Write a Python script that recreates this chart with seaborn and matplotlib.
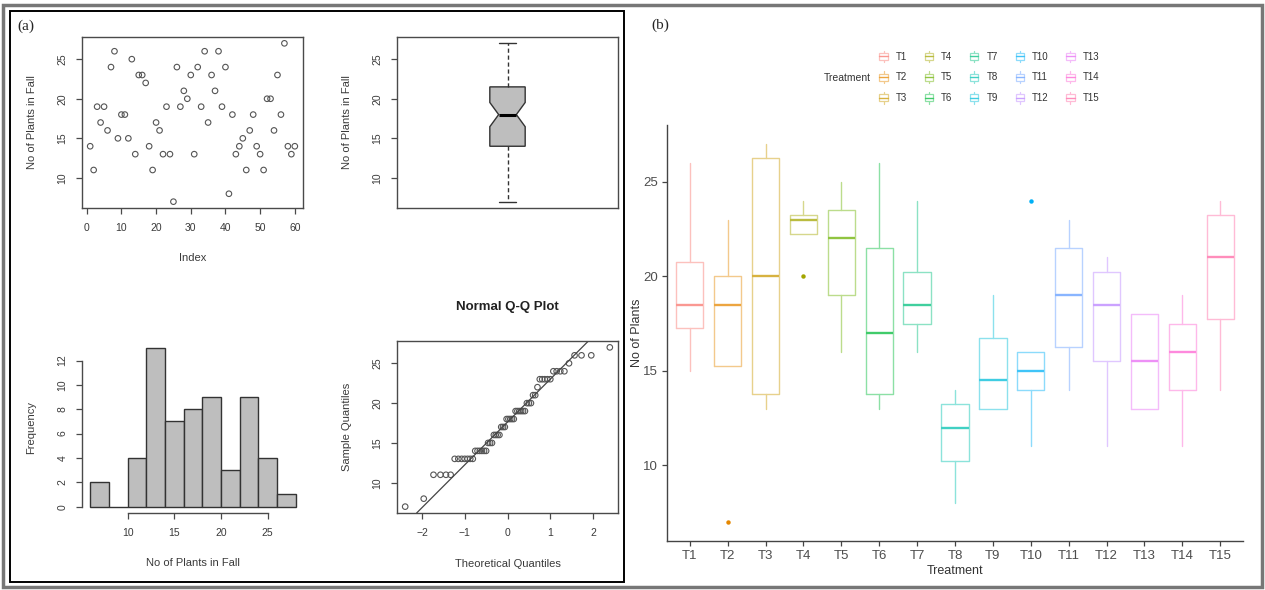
import math
from statistics import NormalDist

import numpy as np
import pandas as pd
import matplotlib
matplotlib.use("Agg")
import matplotlib.pyplot as plt
import seaborn as sns
from matplotlib.lines import Line2D
from matplotlib.patches import Rectangle
from matplotlib.legend_handler import HandlerBase

# ---------------- data ----------------
# (a) number of plants in fall, plot index 1..60
plants_fall = [14, 11, 19, 17, 19, 16, 24, 26, 15, 18, 18, 15, 25, 13, 23, 23, 22, 14, 11, 17,
               16, 13, 19, 13, 7, 24, 19, 21, 20, 23, 13, 24, 19, 26, 17, 23, 21, 26, 19, 24,
               8, 18, 13, 14, 15, 11, 16, 18, 14, 13, 11, 20, 20, 16, 23, 18, 27, 14, 13, 14]
hist_edges = [6, 8, 10, 12, 14, 16, 18, 20, 22, 24, 26, 28]

# (b) box statistics per treatment
treatments = ["T%d" % i for i in range(1, 16)]
t_q1 = [17.25, 15.25, 13.75, 22.25, 19, 13.75, 17.5, 10.25, 13, 14, 16.25, 15.5, 13, 14, 17.75]
t_med = [18.5, 18.5, 20, 23, 22, 17, 18.5, 12, 14.5, 15, 19, 18.5, 15.5, 16, 21]
t_q3 = [20.75, 20, 26.25, 23.25, 23.5, 21.5, 20.25, 13.25, 16.75, 16, 21.5, 20.25, 18, 17.5, 23.25]
t_lo = [15, 15.25, 13, 22.25, 16, 13, 16, 8, 13, 11, 14, 11, 13, 11, 14]
t_hi = [26, 23, 27, 24, 25, 26, 24, 14, 19, 16, 23, 21, 18, 19, 24]
t_out = [[], [7], [], [20], [], [], [], [], [], [24], [], [], [], [], []]
t_colors = ["#F8766D", "#E58700", "#C99800", "#A3A500", "#6BB100", "#00BA38", "#00BF7D",
            "#00C0AF", "#00BCD8", "#00B0F6", "#619CFF", "#B983FF", "#E76BF3", "#FD61D1", "#FF67A4"]

W, H = 1265, 590
FRAME = "#4a4a4a"
TEXT = "#3a3a3a"
GRAY = "#bebebe"
BOX_FADE = 0.55
MED_FADE = 0.25

sns.set_style("white")
plt.rcParams['font.family'] = ['Liberation Sans', 'DejaVu Sans']


def px_axes(fig, x0, y0, x1, y1):
    return fig.add_axes([x0 / W, 1 - y1 / H, (x1 - x0) / W, (y1 - y0) / H])


def r_pad(v, f=0.04):
    lo, hi = min(v), max(v)
    d = (hi - lo) * f
    return lo - d, hi + d


def r_style(ax, frame=True):
    for s in ax.spines.values():
        s.set_color(FRAME)
        s.set_linewidth(1.0)
        s.set_visible(frame)
    ax.tick_params(direction='out', length=4.5, width=0.9, color=FRAME,
                   labelsize=7.5, labelcolor=TEXT, pad=6, bottom=True, left=True)
    ax.tick_params(axis='y', labelrotation=90)
    for lab in ax.get_yticklabels():
        lab.set_va('center')


def r_labels(ax, xlabel, ylabel):
    ax.set_xlabel(xlabel, fontsize=8, color=TEXT, va='top')
    ax.set_ylabel(ylabel, fontsize=8, color=TEXT)
    ax.xaxis.set_label_coords(0.5, -0.265)
    ax.yaxis.set_label_coords(-0.205, 0.5)


def fivenum(v):
    x = np.sort(np.asarray(v, dtype=float))
    n = len(x)
    n4 = math.floor((n + 3) / 2) / 2
    d = [1, n4, (n + 1) / 2, n + 1 - n4, n]
    return [0.5 * (x[math.floor(i) - 1] + x[math.ceil(i) - 1]) for i in d]


def lighten(c, f):
    r, g, b = matplotlib.colors.to_rgb(c)
    return (r + (1 - r) * f, g + (1 - g) * f, b + (1 - b) * f)


class BoxKey:
    def __init__(self, color):
        self.color = color


class BoxKeyHandler(HandlerBase):
    # small ggplot-like boxplot glyph for the legend
    def create_artists(self, legend, orig_handle, xdescent, ydescent, width, height,
                       fontsize, trans):
        x0, y0 = -xdescent, -ydescent
        pale = lighten(orig_handle.color, BOX_FADE)
        xc = x0 + width / 2
        whisk = Line2D([xc, xc], [y0 - 0.3 * height, y0 + 1.3 * height], color=pale,
                       linewidth=0.9, transform=trans)
        box = Rectangle((x0 + 0.05 * width, y0), 0.9 * width, height, facecolor='white',
                        edgecolor=pale, linewidth=0.9, transform=trans)
        med = Line2D([x0 + 0.05 * width, x0 + 0.95 * width], [y0 + height / 2] * 2,
                     color=lighten(orig_handle.color, MED_FADE), linewidth=1.0, transform=trans)
        return [whisk, box, med]


fig = plt.figure(figsize=(W / 100, H / 100), dpi=100)

# ---------- (a) index plot ----------
idx = np.arange(1, len(plants_fall) + 1)
ax1 = px_axes(fig, 82, 37, 303, 208)
sns.scatterplot(x=idx, y=plants_fall, ax=ax1, marker='o', s=16, facecolor='none',
                edgecolor='#555555', linewidth=0.8)
ax1.set_xlim(r_pad(idx))
ax1.set_ylim(r_pad(plants_fall))
ax1.set_xticks(range(0, 61, 10))
ax1.set_yticks([10, 15, 20, 25])
r_style(ax1)
r_labels(ax1, "Index", "No of Plants in Fall")

# ---------- (a) notched box plot ----------
ax2 = px_axes(fig, 397, 37, 618, 208)
f5 = fivenum(plants_fall)
iqr = f5[3] - f5[1]
notch = 1.58 * iqr / math.sqrt(len(plants_fall))
box_stats = [dict(med=f5[2], q1=f5[1], q3=f5[3], whislo=f5[0], whishi=f5[4], fliers=[],
                  cilo=f5[2] - notch, cihi=f5[2] + notch)]
ax2.bxp(box_stats, positions=[1], widths=0.16, shownotches=True, patch_artist=True,
        boxprops=dict(facecolor=GRAY, edgecolor='#333333', linewidth=1.0),
        whiskerprops=dict(color='#333333', linestyle=(0, (3, 2)), linewidth=1.0),
        capprops=dict(color='#333333', linewidth=1.0),
        medianprops=dict(color='black', linewidth=2.2))
ax2.set_xlim(0.5, 1.5)
ax2.set_ylim(r_pad(plants_fall))
ax2.set_xticks([])
ax2.set_yticks([10, 15, 20, 25])
r_style(ax2)
ax2.tick_params(axis='x', bottom=False)
r_labels(ax2, "", "No of Plants in Fall")

# ---------- (a) histogram ----------
counts = pd.cut(pd.Series(plants_fall), hist_edges, right=True).value_counts().sort_index().values
ax3 = px_axes(fig, 82, 342, 304, 513)
sns.histplot(x=hist_edges[:-1], weights=counts, bins=hist_edges, ax=ax3, color=GRAY,
             edgecolor='#333333', linewidth=1.0, alpha=1)
ax3.set_xlim(r_pad(hist_edges))
ax3.set_ylim(r_pad([0, max(counts)]))
ax3.set_xticks([10, 15, 20, 25])
ax3.set_yticks(range(0, 13, 2))
r_style(ax3, frame=False)
ax3.spines['left'].set_visible(True)
ax3.spines['bottom'].set_visible(True)
ax3.spines['left'].set_bounds(0, 12)
ax3.spines['bottom'].set_bounds(10, 25)
r_labels(ax3, "No of Plants in Fall", "Frequency")

# ---------- (a) normal Q-Q plot ----------
n = len(plants_fall)
nd = NormalDist()
theo = [nd.inv_cdf((i - 0.5) / n) for i in range(1, n + 1)]
samp = np.sort(plants_fall)
ax4 = px_axes(fig, 397, 341, 618, 513)
sns.scatterplot(x=theo, y=samp, ax=ax4, marker='o', s=16, facecolor='none',
                edgecolor='#555555', linewidth=0.8)
yq = np.quantile(plants_fall, [0.25, 0.75])
xq = [nd.inv_cdf(0.25), nd.inv_cdf(0.75)]
ax4.axline((xq[0], yq[0]), (xq[1], yq[1]), color='#444444', linewidth=0.9)
ax4.set_xlim(r_pad(theo))
ax4.set_ylim(r_pad(samp))
ax4.set_xticks([-2, -1, 0, 1, 2])
ax4.set_yticks([10, 15, 20, 25])
r_style(ax4)
r_labels(ax4, "Theoretical Quantiles", "Sample Quantiles")
ax4.set_title("Normal Q-Q Plot", fontsize=9.5, fontweight='bold', color='#222222',
              y=1.15, va='center')

# ---------- (b) boxplots by treatment ----------
ax5 = px_axes(fig, 667, 125, 1243, 541)
pos = np.arange(1, len(treatments) + 1)
stats_b = []
for i in range(len(treatments)):
    stats_b.append(dict(med=t_med[i], q1=t_q1[i], q3=t_q3[i], whislo=t_lo[i],
                        whishi=t_hi[i], fliers=t_out[i]))
art = ax5.bxp(stats_b, positions=pos, widths=0.72, showcaps=False, patch_artist=False,
              boxprops=dict(linewidth=1.0), whiskerprops=dict(linewidth=1.0),
              medianprops=dict(linewidth=1.7),
              flierprops=dict(marker='o', markersize=3.2, markeredgewidth=0))
for i, c in enumerate(t_colors):
    pale = lighten(c, BOX_FADE)
    art['boxes'][i].set_color(pale)
    art['whiskers'][2 * i].set_color(pale)
    art['whiskers'][2 * i + 1].set_color(pale)
    art['medians'][i].set_color(lighten(c, MED_FADE))
    art['fliers'][i].set_markerfacecolor(c)

all_vals = t_lo + t_hi + [v for o in t_out for v in o]
span = max(all_vals) - min(all_vals)
ax5.set_ylim(min(all_vals) - 0.05 * span, max(all_vals) + 0.05 * span)
ax5.set_xlim(0.4, len(treatments) + 0.6)
ax5.set_xticks(pos)
ax5.set_xticklabels(treatments)
ax5.set_yticks([10, 15, 20, 25])
for s in ['top', 'right']:
    ax5.spines[s].set_visible(False)
for s in ['left', 'bottom']:
    ax5.spines[s].set_color('#444444')
    ax5.spines[s].set_linewidth(1.0)
ax5.tick_params(direction='out', length=3.5, width=0.9, color='#444444', labelsize=9.5,
                labelcolor='#4d4d4d', pad=3, bottom=True, left=True)
ax5.set_xlabel("Treatment", fontsize=9, color='#333333', va='top')
ax5.set_ylabel("No of Plants", fontsize=9, color='#333333')
ax5.xaxis.set_label_coords(0.5, -0.058)
ax5.yaxis.set_label_coords(-0.042, 0.5)

handles = [BoxKey(c) for c in t_colors]
fig.legend(handles, treatments, ncol=5, loc='center left', bbox_to_anchor=(879 / W, 1 - 77.5 / H),
           frameon=False, fontsize=7, labelcolor='#333333', handlelength=0.95, handleheight=0.75,
           handletextpad=0.8, columnspacing=1.75, labelspacing=1.1, borderpad=0, borderaxespad=0,
           handler_map={BoxKey: BoxKeyHandler()})
fig.text(871 / W, 1 - 78 / H, "Treatment", fontsize=7.5, color='#333333', ha='right', va='center')

# ---------- panel labels and frames ----------
fig.text(17 / W, 1 - 26 / H, "(a)", fontsize=11, family='Liberation Serif', va='center')
fig.text(651 / W, 1 - 25 / H, "(b)", fontsize=11, family='Liberation Serif', va='center')
fig.patches.append(Rectangle((3 / W, 1 - 587 / H), 1259 / W, 582 / H, transform=fig.transFigure,
                             fill=False, edgecolor='#777777', linewidth=2.5))
fig.patches.append(Rectangle((10 / W, 1 - 582 / H), 614 / W, 571 / H, transform=fig.transFigure,
                             fill=False, edgecolor='black', linewidth=1.4))

fig.savefig("out.png", dpi=100)
